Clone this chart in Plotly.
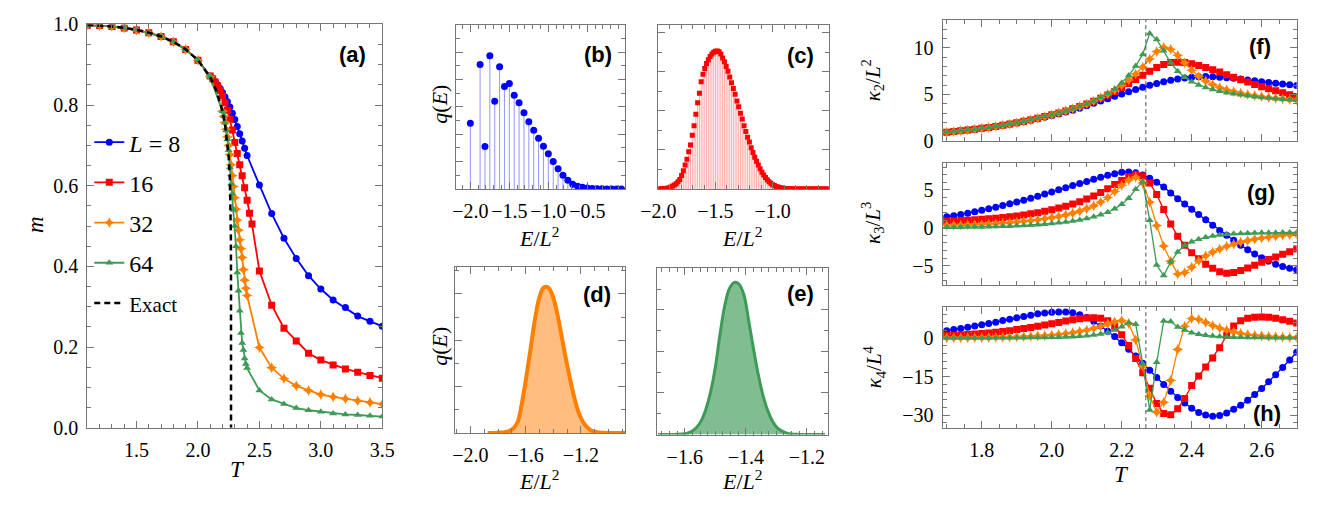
import numpy as np
import plotly.graph_objects as go

# ---------------- DATA ----------------
# Panel (a): magnetisation m(T)
T_low = [1.1, 1.2, 1.3, 1.4, 1.5, 1.6, 1.7, 1.8, 1.9, 2.0]
m_low = [0.998, 0.997, 0.995, 0.991, 0.986, 0.979, 0.970, 0.957, 0.938, 0.911]
T_high = [2.5, 2.6, 2.7, 2.8, 2.9, 3.0, 3.1, 3.2, 3.3, 3.4, 3.5]

T8_mid = [2.10, 2.12, 2.14, 2.16, 2.18, 2.20, 2.22, 2.24, 2.26, 2.28, 2.30, 2.32, 2.34, 2.36, 2.38, 2.40]
m8_mid = [0.872, 0.866, 0.858, 0.850, 0.841, 0.831, 0.820, 0.808, 0.795, 0.780, 0.764, 0.747, 0.729, 0.711, 0.693, 0.675]
m8_high = [0.602, 0.531, 0.470, 0.420, 0.377, 0.344, 0.317, 0.298, 0.277, 0.264, 0.252]

T16_mid = [2.10, 2.12, 2.14, 2.16, 2.18, 2.20, 2.22, 2.24, 2.26, 2.28, 2.30, 2.32, 2.34, 2.36, 2.38, 2.40, 2.42, 2.44]
m16_mid = [0.872, 0.865, 0.857, 0.847, 0.836, 0.823, 0.806, 0.787, 0.765, 0.738, 0.707, 0.680, 0.652, 0.625, 0.595, 0.564, 0.532, 0.505]
m16_high = [0.389, 0.304, 0.247, 0.215, 0.185, 0.168, 0.156, 0.146, 0.138, 0.130, 0.123]

T32_mid = [2.10, 2.20, 2.21, 2.22, 2.23, 2.24, 2.25, 2.26, 2.27, 2.28, 2.29, 2.30, 2.31, 2.32, 2.33, 2.34, 2.35, 2.36, 2.37, 2.38, 2.39, 2.40]
m32_mid = [0.870, 0.785, 0.772, 0.757, 0.740, 0.721, 0.700, 0.677, 0.652, 0.625, 0.598, 0.570, 0.542, 0.515, 0.490, 0.466, 0.444, 0.422, 0.392, 0.366, 0.346, 0.328]
m32_high = [0.199, 0.149, 0.122, 0.104, 0.0925, 0.0823, 0.0768, 0.072, 0.067, 0.063, 0.059]

T64_mid = [2.10, 2.20, 2.21, 2.22, 2.23, 2.24, 2.25, 2.26, 2.27, 2.28, 2.29, 2.30, 2.31, 2.32, 2.33, 2.34, 2.35, 2.36, 2.37, 2.38, 2.39, 2.40]
m64_mid = [0.870, 0.785, 0.772, 0.756, 0.737, 0.715, 0.688, 0.645, 0.605, 0.580, 0.540, 0.500, 0.450, 0.385, 0.340, 0.290, 0.235, 0.210, 0.193, 0.172, 0.158, 0.148]
m64_high = [0.0925, 0.0704, 0.0593, 0.049, 0.0436, 0.0396, 0.0356, 0.0332, 0.0318, 0.030, 0.028]

T_exact = [1.1, 1.2, 1.3, 1.4, 1.5, 1.6, 1.7, 1.8, 1.9, 2.0, 2.1, 2.15, 2.2, 2.22, 2.24, 2.25,
           2.26, 2.265, 2.268, 2.269, 2.2691, 2.26919]
m_exact = [0.9985, 0.9970, 0.9948, 0.9914, 0.9865, 0.9796, 0.9701, 0.9569, 0.9383, 0.9113, 0.8687,
           0.8357, 0.7848, 0.7535, 0.7073, 0.6718, 0.6134, 0.5561, 0.4756, 0.3763, 0.311, 0.0]

# Panel (b): L=8 energy distribution (q in arbitrary units)
E_b = [-2.0, -1.875, -1.8125, -1.75, -1.6875, -1.625, -1.5625, -1.5, -1.4375, -1.375, -1.3125,
       -1.25, -1.1875, -1.125, -1.0625, -1.0, -0.9375, -0.875, -0.8125, -0.75, -0.6875, -0.625,
       -0.5625, -0.5, -0.4375, -0.375, -0.3125, -0.25, -0.1875, -0.125, -0.0625]
q_b = [0.0687, 0.1300, 0.0443, 0.1393, 0.0917, 0.1277, 0.1070, 0.1103, 0.0980, 0.0900, 0.0797,
       0.0703, 0.0613, 0.0530, 0.0447, 0.0367, 0.0287, 0.0210, 0.0143, 0.0090, 0.0050, 0.0027,
       0.0017, 0.0010, 0.0005, 0.0003, 0.0001, 0.0, 0.0, 0.0, 0.0]

# Panel (c): L=16 energy distribution
E_c = list(np.linspace(-2.0, -0.5, 97))
q_c = [0.0, 0.0001, 0.0002, 0.0003, 0.0005, 0.0008, 0.0013, 0.0020, 0.0030, 0.0040,
       0.0055, 0.0075, 0.0100, 0.0140, 0.0190, 0.0250, 0.0310, 0.0390, 0.0460, 0.0560,
       0.0660, 0.0780, 0.0900, 0.1000, 0.1120, 0.1200, 0.1260, 0.1310, 0.1350, 0.1385,
       0.1410, 0.1430, 0.1440, 0.1443, 0.1435, 0.1410, 0.1370, 0.1330, 0.1280, 0.1230,
       0.1170, 0.1110, 0.1050, 0.0990, 0.0920, 0.0860, 0.0790, 0.0730, 0.0660, 0.0600,
       0.0540, 0.0490, 0.0430, 0.0380, 0.0330, 0.0290, 0.0250, 0.0210, 0.0175, 0.0145,
       0.0120, 0.0095, 0.0075, 0.0060, 0.0045, 0.0035, 0.0026, 0.0020, 0.0014, 0.0010,
       0.0007, 0.0005, 0.0003, 0.0002, 0.0001] + [0.0] * 22

# Panel (d): L=32 energy distribution
E_d = list(np.linspace(-1.875, -0.875, 33))
q_d = [0.0, 0.0, 0.0001, 0.0003, 0.0008, 0.0020, 0.0050, 0.0120, 0.0330, 0.0600, 0.0900,
       0.1200, 0.1420, 0.1520, 0.1520, 0.1440, 0.1270, 0.1040, 0.0800, 0.0580, 0.0380,
       0.0220, 0.0120, 0.0060, 0.0025, 0.0010, 0.0004, 0.0001, 0.0, 0.0, 0.0, 0.0, 0.0]

# Panel (e): L=64 energy distribution
E_e = list(np.linspace(-1.6875, -1.140625, 36))
q_e = [0.0, 0.0, 0.0, 0.0, 0.0002, 0.0005, 0.0012, 0.0030, 0.0070, 0.0140, 0.0260, 0.0440,
       0.0700, 0.1050, 0.1350, 0.1530, 0.1590, 0.1570, 0.1460, 0.1190, 0.0900, 0.0630,
       0.0410, 0.0250, 0.0140, 0.0070, 0.0035, 0.0015, 0.0006, 0.0002, 0.0, 0.0, 0.0, 0.0,
       0.0, 0.0]

# Panels (f)-(h): cumulants vs T
T_k = list(np.round(np.linspace(1.70, 2.70, 51), 2))

k2_8 = [0.95, 1.02, 1.10, 1.18, 1.27, 1.37, 1.47, 1.58, 1.70, 1.82, 1.95, 2.09, 2.24, 2.40, 2.57,
        2.74, 2.92, 3.11, 3.31, 3.52, 3.80, 4.05, 4.30, 4.55, 4.80, 5.05, 5.30, 5.54, 5.77, 5.98,
        6.18, 6.36, 6.52, 6.66, 6.78, 6.86, 6.91, 6.92, 6.90, 6.86, 6.80, 6.73, 6.65, 6.56, 6.47,
        6.38, 6.29, 6.20, 6.12, 6.04, 5.96]
k2_16 = [0.95, 1.02, 1.10, 1.18, 1.27, 1.37, 1.47, 1.58, 1.70, 1.83, 1.97, 2.12, 2.28, 2.45, 2.63,
         2.82, 3.02, 3.24, 3.47, 3.72, 3.98, 4.28, 4.60, 4.95, 5.33, 5.74, 6.17, 6.62, 7.07, 7.50,
         7.90, 8.22, 8.42, 8.47, 8.42, 8.30, 8.12, 7.90, 7.66, 7.40, 7.13, 6.86, 6.59, 6.33, 6.08,
         5.84, 5.61, 5.39, 5.18, 4.98, 4.79]
k2_32 = [0.95, 1.02, 1.10, 1.18, 1.27, 1.37, 1.47, 1.58, 1.70, 1.83, 1.97, 2.12, 2.28, 2.45, 2.63,
         2.82, 3.02, 3.24, 3.47, 3.72, 3.98, 4.30, 4.65, 5.04, 5.48, 5.98, 6.55, 7.20, 7.95, 8.80,
         9.60, 10.05, 9.85, 9.20, 8.40, 7.60, 6.95, 6.45, 6.05, 5.75, 5.50, 5.30, 5.14, 5.00, 4.88,
         4.78, 4.69, 4.61, 4.53, 4.46, 4.39]
k2_64 = [0.95, 1.02, 1.10, 1.18, 1.27, 1.37, 1.47, 1.58, 1.70, 1.83, 1.97, 2.12, 2.28, 2.45, 2.63,
         2.82, 3.02, 3.24, 3.47, 3.72, 3.98, 4.31, 4.68, 5.10, 5.60, 6.25, 7.05, 8.05, 9.30, 11.55,
         10.90, 9.70, 8.40, 7.50, 6.85, 6.38, 6.02, 5.75, 5.53, 5.35, 5.20, 5.07, 4.96, 4.86, 4.77,
         4.69, 4.62, 4.55, 4.49, 4.43, 4.37]

k3_8 = [1.45, 1.60, 1.76, 1.93, 2.11, 2.30, 2.50, 2.71, 2.93, 3.16, 3.40, 3.65, 3.91, 4.18, 4.45,
        4.73, 5.01, 5.29, 5.57, 5.85, 6.12, 6.40, 6.66, 6.92, 7.15, 7.32, 7.38, 7.25, 6.98, 6.55,
        6.00, 5.40, 4.60, 3.85, 3.15, 2.45, 1.75, 1.05, 0.35, -0.35, -1.00, -1.65, -2.30, -2.90,
        -3.45, -3.95, -4.40, -4.80, -5.10, -5.35, -5.55]
k3_16 = [0.85, 0.90, 0.95, 1.00, 1.06, 1.12, 1.19, 1.27, 1.36, 1.46, 1.57, 1.70, 1.84, 2.00, 2.18,
         2.38, 2.60, 2.85, 3.13, 3.45, 3.80, 4.20, 4.65, 5.15, 5.70, 6.25, 6.75, 7.05, 6.85, 5.90,
         4.40, 2.40, 0.50, -1.10, -2.30, -3.30, -4.10, -4.80, -5.35, -5.80, -6.00, -5.90, -5.65,
         -5.30, -4.95, -4.55, -4.20, -3.85, -3.50, -3.15, -2.80]
k3_32 = [0.33, 0.35, 0.37, 0.40, 0.43, 0.47, 0.51, 0.56, 0.62, 0.68, 0.76, 0.85, 0.95, 1.06, 1.19,
         1.33, 1.50, 1.70, 1.93, 2.20, 2.52, 2.90, 3.40, 4.00, 4.80, 5.60, 6.30, 6.70, 5.90, 3.40,
         0.30, -2.40, -4.40, -6.10, -5.90, -5.20, -4.35, -3.70, -3.20, -2.80, -2.45, -2.15, -1.90,
         -1.70, -1.50, -1.35, -1.22, -1.10, -1.00, -0.92, -0.85]
k3_64 = [0.06, 0.07, 0.08, 0.09, 0.10, 0.12, 0.14, 0.16, 0.19, 0.22, 0.26, 0.30, 0.35, 0.41, 0.48,
         0.56, 0.65, 0.76, 0.89, 1.04, 1.22, 1.45, 1.72, 2.05, 2.50, 3.10, 3.90, 5.10, 6.10, 1.00,
         -4.90, -6.30, -4.50, -3.20, -2.35, -1.85, -1.50, -1.25, -1.08, -0.95, -0.86, -0.79, -0.74,
         -0.71, -0.68, -0.66, -0.65, -0.64, -0.63, -0.62, -0.62]

k4_8 = [2.8, 3.2, 3.6, 4.1, 4.6, 5.1, 5.6, 6.1, 6.7, 7.2, 7.8, 8.3, 8.8, 9.3, 9.6, 9.9, 10.0, 10.0,
        9.7, 9.0, 7.9, 6.4, 4.6, 2.6, 0.5, -1.9, -4.4, -7.0, -9.8, -12.6, -15.4, -18.1, -20.7,
        -23.1, -25.3, -27.3, -28.9, -29.9, -30.4, -30.1, -29.1, -27.7, -26.1, -24.2, -22.0, -19.6,
        -17.0, -14.3, -11.5, -8.6, -5.6]
k4_16 = [0.9, 1.0, 1.1, 1.3, 1.5, 1.7, 1.9, 2.2, 2.5, 2.8, 3.2, 3.6, 4.0, 4.5, 5.0, 5.5, 6.0, 6.5,
         7.0, 7.4, 7.7, 7.8, 7.6, 6.6, 4.5, 1.2, -3.0, -8.0, -13.5, -19.5, -25.5, -29.3, -29.8,
         -27.5, -23.5, -18.5, -14.8, -11.3, -7.8, -3.8, 1.0, 4.6, 6.6, 7.6, 8.0, 8.1, 8.0, 7.6,
         7.0, 6.4, 5.8]
k4_32 = [0.0, 0.0, 0.05, 0.05, 0.1, 0.1, 0.15, 0.2, 0.25, 0.3, 0.4, 0.5, 0.6, 0.75, 0.9, 1.1, 1.35,
         1.65, 2.0, 2.5, 3.0, 3.7, 4.5, 5.4, 6.2, 6.7, 5.6, -0.8, -11.0, -22.5, -28.8, -25.0,
         -16.5, -4.5, 4.5, 7.5, 7.2, 6.0, 4.8, 3.8, 3.0, 2.3, 1.7, 1.3, 1.0, 0.75, 0.55, 0.4, 0.3,
         0.2, 0.15]
k4_64 = [-0.05, -0.05, -0.05, -0.05, -0.05, -0.05, -0.05, 0.0, 0.0, 0.0, 0.05, 0.05, 0.1, 0.1, 0.15,
         0.2, 0.25, 0.35, 0.45, 0.6, 0.8, 1.1, 1.5, 2.1, 3.0, 4.3, 5.9, 5.3, -10.0, -28.0, -9.5,
         6.5, 6.3, 4.2, 3.0, 2.0, 1.4, 1.0, 0.7, 0.5, 0.35, 0.25, 0.2, 0.15, 0.1, 0.1, 0.05, 0.05,
         0.0, 0.0, 0.0]

T_c = 2.269

# ---------------- STYLE ----------------
W, H = 1325, 508
BLUE, RED, ORANGE, GREEN = 'rgb(0,0,255)', 'rgb(255,0,0)', 'rgb(255,128,0)', 'rgb(61,155,85)'
AXC = '#777777'
SERIF = 'Liberation Serif'
TICKFONT = dict(family=SERIF, size=20, color='black')


def dx(a, b):
    return [a / W, b / W]


def dy(top, bottom):
    return [1 - bottom / H, 1 - top / H]


def axis(domain, anchor, rng, dtick, tick0, mdtick, fmt='.1f', labels=True):
    return dict(domain=domain, anchor=anchor, range=rng, showline=True, linecolor=AXC,
                linewidth=1, mirror='ticks', ticks='inside', ticklen=7, tickcolor=AXC,
                tickwidth=1, showgrid=False, zeroline=False, tickfont=TICKFONT, dtick=dtick,
                tick0=tick0, tickformat=fmt, showticklabels=labels, ticklabelstandoff=4,
                tickangle=0,
                minor=dict(ticks='inside', ticklen=4, tickcolor=AXC, dtick=mdtick, tick0=tick0,
                           showgrid=False))


fig = go.Figure()

# ---- panel (a)
series_a = [
    ('<i>L</i> = 8', BLUE, 'circle', 7, T_low + T8_mid + T_high, m_low + m8_mid + m8_high),
    ('16', RED, 'square', 7, T_low + T16_mid + T_high, m_low + m16_mid + m16_high),
    ('32', ORANGE, 'star-diamond', 8, T_low + T32_mid + T_high, m_low + m32_mid + m32_high),
    ('64', GREEN, 'triangle-up', 7, T_low + T64_mid + T_high, m_low + m64_mid + m64_high),
]
for i, (name, col, sym, sz, xs, ys) in enumerate(series_a):
    fig.add_trace(go.Scatter(x=xs, y=ys, mode='lines+markers', name=name, legendgroup=f'g{i}',
                             line=dict(color=col, width=1.8),
                             marker=dict(color=col, symbol=sym, size=sz, line=dict(width=0)),
                             xaxis='x', yaxis='y'))
fig.add_trace(go.Scatter(x=T_exact, y=m_exact, mode='lines',
                         name='<span style="font-size:21px">Exact</span>', legendgroup='g5',
                         line=dict(color='black', width=2.5, dash='6px,4px'),
                         xaxis='x', yaxis='y'))


def stems(xs, ys):
    sx, sy = [], []
    for x, y in zip(xs, ys):
        sx += [x, x, None]
        sy += [0, y, None]
    return sx, sy


# ---- panel (b)
sx, sy = stems(E_b, q_b)
fig.add_trace(go.Scatter(x=sx, y=sy, mode='lines', line=dict(color='rgb(150,150,255)', width=1),
                         showlegend=False, xaxis='x2', yaxis='y2'))
fig.add_trace(go.Scatter(x=E_b, y=q_b, mode='markers', marker=dict(color=BLUE, size=7),
                         showlegend=False, xaxis='x2', yaxis='y2'))

# ---- panel (c)
sx, sy = stems(E_c, q_c)
fig.add_trace(go.Scatter(x=sx, y=sy, mode='lines', line=dict(color='rgb(255,170,170)', width=1),
                         showlegend=False, xaxis='x3', yaxis='y3'))
fig.add_trace(go.Scatter(x=E_c, y=q_c, mode='markers',
                         marker=dict(color=RED, size=5, symbol='square', line=dict(width=0)),
                         showlegend=False, xaxis='x3', yaxis='y3'))

# ---- panel (d)
fig.add_trace(go.Scatter(x=E_d, y=q_d, mode='lines', fill='tozeroy',
                         fillcolor='rgb(255,190,128)', line=dict(color=ORANGE, width=4, shape='spline'),
                         showlegend=False, xaxis='x4', yaxis='y4'))

# ---- panel (e)
fig.add_trace(go.Scatter(x=E_e, y=q_e, mode='lines', fill='tozeroy',
                         fillcolor='rgb(128,190,145)', line=dict(color=GREEN, width=3, shape='spline'),
                         showlegend=False, xaxis='x5', yaxis='y5'))

# ---- panels (f), (g), (h)
kset = [(k2_8, k2_16, k2_32, k2_64, 'x6', 'y6'),
        (k3_8, k3_16, k3_32, k3_64, 'x7', 'y7'),
        (k4_8, k4_16, k4_32, k4_64, 'x8', 'y8')]
styles = [(BLUE, 'circle', 7), (RED, 'square', 7), (ORANGE, 'star-diamond', 8), (GREEN, 'triangle-up', 7)]
for k8, k16, k32, k64, xa, ya in kset:
    for vals, (col, sym, sz) in zip([k8, k16, k32, k64], styles):
        fig.add_trace(go.Scatter(x=T_k, y=vals, mode='lines+markers',
                                 line=dict(color=col, width=1.3),
                                 marker=dict(color=col, symbol=sym, size=sz, line=dict(width=0)),
                                 showlegend=False, xaxis=xa, yaxis=ya))

# ---------------- AXES ----------------
lay = {}
lay['xaxis'] = axis(dx(71, 373), 'y', [1.1, 3.5], 0.5, 1.5, 0.1)
lay['yaxis'] = axis(dy(14, 435.7), 'x', [0, 1.0], 0.2, 0, 0.05)
lay['xaxis2'] = axis(dx(448, 621.7), 'y2', [-2.19, -0.015], 0.5, -2.0, 0.1)
lay['yaxis2'] = axis(dy(14.3, 186), 'x2', [0, 0.1717], 0.0286, 0, 0.0143, labels=False)
lay['xaxis3'] = axis(dx(655.7, 830), 'y3', [-2.0, -0.51], 0.5, -2.0, 0.1)
lay['yaxis3'] = axis(dy(15, 186), 'x3', [0, 0.171], 0.0408, 0, 0.0204, labels=False)
lay['xaxis4'] = axis(dx(447.7, 621.7), 'y4', [-2.11, -0.88], 0.4, -2.0, 0.1)
lay['yaxis4'] = axis(dy(267.7, 441), 'x4', [0, 0.1733], 0.0484, 0, 0.0242, labels=False)
lay['xaxis5'] = axis(dx(654.3, 829.3), 'y5', [-1.691, -1.131], 0.2, -1.6, 0.025)
lay['yaxis5'] = axis(dy(268.3, 442.7), 'x5', [0, 0.1743], 0.0434, 0, 0.0217, labels=False)
lay['xaxis6'] = axis(dx(946.7, 1309.3), 'y6', [1.688, 2.70], 0.2, 1.8, 0.05, labels=False)
lay['yaxis6'] = axis(dy(9.3, 136), 'x6', [0, 13], 5, 0, 1, fmt='d')
lay['xaxis7'] = axis(dx(946.7, 1309.3), 'y7', [1.688, 2.70], 0.2, 1.8, 0.05, labels=False)
lay['yaxis7'] = axis(dy(159.3, 286), 'x7', [-7.5, 8.5], 5, 0, 1, fmt='d')
lay['xaxis8'] = axis(dx(946.7, 1309.3), 'y8', [1.688, 2.70], 0.2, 1.8, 0.05)
lay['yaxis8'] = axis(dy(309.3, 436), 'x8', [-35, 12], 15, 0, 3, fmt='d')

# dashed Tc lines
shapes = []
for xa, ya in [('x6', 'y6'), ('x7', 'y7'), ('x8', 'y8')]:
    shapes.append(dict(type='line', xref=xa, yref=f'{ya} domain', x0=T_c, x1=T_c, y0=0, y1=1,
                       line=dict(color='#555555', width=1, dash='4px,3px'), layer='above'))


def ann(text, x, y, size=22, angle=0, family=SERIF, bold=False):
    if bold:
        text = f'<b>{text}</b>'
    return dict(text=text, x=x / W, y=1 - y / H, xref='paper', yref='paper', showarrow=False,
                xanchor='center', yanchor='middle', textangle=angle,
                font=dict(family=family, size=size, color='black'))


annotations = [
    ann('(a)', 343, 45, 22, family='Liberation Sans', bold=True),
    ann('(b)', 594, 45, 22, family='Liberation Sans', bold=True),
    ann('(c)', 801, 47, 22, family='Liberation Sans', bold=True),
    ann('(d)', 593, 296, 22, family='Liberation Sans', bold=True),
    ann('(e)', 801, 295, 22, family='Liberation Sans', bold=True),
    ann('(f)', 1272, 37, 22, family='Liberation Sans', bold=True),
    ann('(g)', 1273, 190, 22, family='Liberation Sans', bold=True),
    ann('(h)', 1279, 421, 22, family='Liberation Sans', bold=True),
    ann('<i>m</i>', 18, 223, 23, angle=-90),
    ann('<i>T</i>', 225, 479, 23),
    ann('<i>q</i>(<i>E</i>)', 432, 97, 22, angle=-90),
    ann('<i>q</i>(<i>E</i>)', 432, 350, 22, angle=-90),
    ann('<i>E</i>/<i>L</i><sup>2</sup>', 534, 236, 22),
    ann('<i>E</i>/<i>L</i><sup>2</sup>', 742, 236, 22),
    ann('<i>E</i>/<i>L</i><sup>2</sup>', 534, 490, 22),
    ann('<i>E</i>/<i>L</i><sup>2</sup>', 742, 490, 22),
    ann('<i>κ</i><sub>2</sub>/<i>L</i><sup>2</sup>', 875, 73, 21, angle=-90),
    ann('<i>κ</i><sub>3</sub>/<i>L</i><sup>3</sup>', 875, 222, 21, angle=-90),
    ann('<i>κ</i><sub>4</sub>/<i>L</i><sup>4</sup>', 877, 372, 21, angle=-90),
    ann('<i>T</i>', 1130, 484, 23),
]

fig.update_layout(
    width=W, height=H, margin=dict(l=0, r=0, t=0, b=0),
    paper_bgcolor='white', plot_bgcolor='white',
    font=dict(family=SERIF, size=20, color='black'),
    shapes=shapes, annotations=annotations,
    legend=dict(x=73 / W, y=1 - 114 / H, xanchor='left', yanchor='top',
                bgcolor='rgba(0,0,0,0)', font=dict(family=SERIF, size=24, color='black'),
                itemwidth=30, tracegroupgap=6),
    **lay,
)

fig.write_html('out.html')
